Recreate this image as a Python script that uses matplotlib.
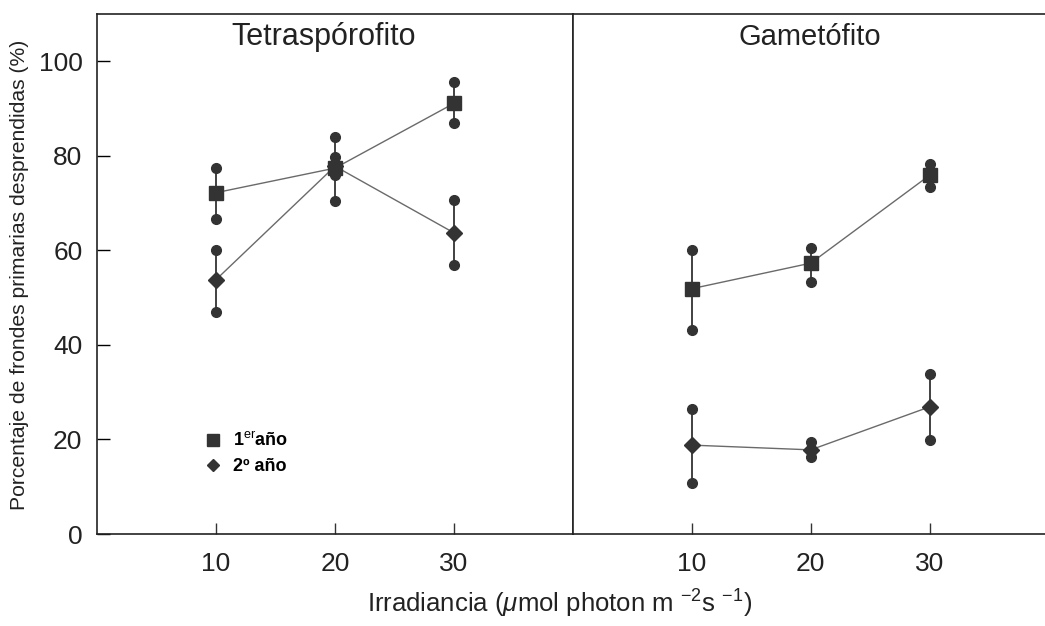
import matplotlib
matplotlib.use("Agg")
import matplotlib.pyplot as plt
from matplotlib.lines import Line2D

plt.rcParams['font.family'] = ['Liberation Sans', 'DejaVu Sans']
plt.rcParams['mathtext.fontset'] = 'custom'
plt.rcParams['mathtext.rm'] = 'Liberation Sans'
plt.rcParams['mathtext.it'] = 'Liberation Sans:italic'
plt.rcParams['mathtext.bf'] = 'Liberation Sans:bold'

irradiance = [10, 20, 30]

# Tetrasporofito
tetra_1_mean = [72.2, 77.4, 91.1]
tetra_1_hi = [77.4, 84.0, 95.6]
tetra_1_lo = [66.7, 70.5, 86.9]
tetra_2_mean = [53.8, 77.8, 63.7]
tetra_2_hi = [60.1, 79.7, 70.7]
tetra_2_lo = [47.0, 76.0, 57.0]

# Gametofito
game_1_mean = [51.9, 57.3, 75.9]
game_1_hi = [60.1, 60.5, 78.2]
game_1_lo = [43.2, 53.4, 73.3]
game_2_mean = [18.8, 17.8, 26.9]
game_2_hi = [26.5, 19.5, 33.8]
game_2_lo = [10.7, 16.2, 19.8]

panel_titles = ["Tetraspórofito", "Gametófito"]
yticks = [0, 20, 40, 60, 80, 100]

dark = "#333333"
line_grey = "#6a6a6a"


def draw_series(ax, mean, lo, hi, marker, msize):
    ax.plot(irradiance, mean, color=line_grey, lw=1.0, zorder=1)
    ax.vlines(irradiance, lo, hi, color=dark, lw=1.3, zorder=2)
    ax.plot(irradiance, lo, 'o', color=dark, ms=7, zorder=3)
    ax.plot(irradiance, hi, 'o', color=dark, ms=7, zorder=3)
    ax.plot(irradiance, mean, marker, color=dark, ms=msize, lw=0, zorder=4)


fig = plt.figure(figsize=(10.45, 6.26), dpi=100)
ax1 = fig.add_axes([97 / 1045, 92 / 626, 476 / 1045, 520 / 626])
ax2 = fig.add_axes([573 / 1045, 92 / 626, 472 / 1045, 520 / 626], sharey=ax1)

draw_series(ax1, tetra_1_mean, tetra_1_lo, tetra_1_hi, 's', 9.5)
draw_series(ax1, tetra_2_mean, tetra_2_lo, tetra_2_hi, 'D', 8)
draw_series(ax2, game_1_mean, game_1_lo, game_1_hi, 's', 9.5)
draw_series(ax2, game_2_mean, game_2_lo, game_2_hi, 'D', 8)

ax1.set_xlim(0, 40)
ax2.set_xlim(0, 39.7)
ax1.set_ylim(0, 110)

for ax in (ax1, ax2):
    ax.set_xticks(irradiance)
    ax.tick_params(axis='x', direction='in', length=8, width=1, pad=13,
                   labelsize=19, colors=dark, labelcolor="#222222")
    for s in ax.spines.values():
        s.set_linewidth(1.2)
        s.set_color("#222222")

ax1.set_yticks(yticks)
ax1.tick_params(axis='y', direction='in', length=9, width=1, pad=10.5,
                labelsize=19, labelcolor="#222222")
ax2.tick_params(axis='y', left=False, labelleft=False)
ax2.spines['right'].set_visible(False)

ax1.text(0.477, 0.955, panel_titles[0], transform=ax1.transAxes,
         ha='center', va='center', fontsize=22, color="#222222")
ax2.text(0.502, 0.955, panel_titles[1], transform=ax2.transAxes,
         ha='center', va='center', fontsize=21, color="#222222")

handles = [
    Line2D([], [], marker='s', color=dark, lw=0, ms=8),
    Line2D([], [], marker='D', color=dark, lw=0, ms=6.5),
]
ax1.legend(handles, [r"1$^{\mathrm{er}}$año", "2º año"], loc='center left',
           bbox_to_anchor=(0.19, 0.155), frameon=False, handlelength=1.0,
           handletextpad=0.6, labelspacing=0.45,
           prop={'size': 13, 'weight': 'bold'})

fig.text(560 / 1045, 1 - 604 / 626,
         r"Irradiancia ($\mu$mol photon m $^{-2}$s $^{-1}$)",
         ha='center', va='center', fontsize=18.5, color="#222222")
fig.text(20 / 1045, 1 - 275 / 626,
         "Porcentaje de frondes primarias desprendidas (%)",
         rotation=90, ha='center', va='center', fontsize=15.2, color="#222222")

fig.savefig("out.png", dpi=100)
